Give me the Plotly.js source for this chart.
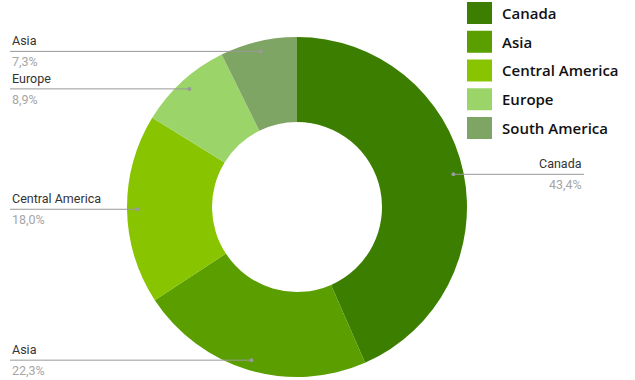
<!DOCTYPE html>
<html><head><meta charset="utf-8">
<script src="https://cdn.plot.ly/plotly-3.0.1.min.js"></script>
<style>html,body{margin:0;padding:0;background:#fff}#chart{width:635px;height:380px}</style>
</head><body><div id="chart"></div>
<script>
const categories = ['Canada', 'Asia', 'Central America', 'Europe', 'South America'];
const values = [43.4, 22.3, 18.0, 8.9, 7.3];
const calloutLabels = ['Canada', 'Asia', 'Central America', 'Europe', 'Asia'];
const colors = ['#3c7f00', '#5a9e00', '#88c400', '#9bd468', '#7fa565'];

const W = 635, H = 380;
const cx = 297, cy = 207, R = 170;
const domX = [(cx - R) / W, (cx + R) / W];
const domY = [(H - cy - R) / H, (H - cy + R) / H];

const total = values.reduce((a, b) => a + b, 0);
const shapes = [], annotations = [];
let cum = 0;
values.forEach((v, i) => {
  const mid = (cum + v / 2) / total * 2 * Math.PI;
  cum += v;
  const px = cx + Math.sin(mid) * R * 0.94;
  const py = cy - Math.cos(mid) * R * 0.94;
  const right = Math.sin(mid) > 0;
  const ex = right ? 584 : 10;
  const pct = v.toFixed(1).replace('.', ',') + '%';
  shapes.push({type: 'line', xref: 'paper', yref: 'paper',
    x0: px / W, y0: 1 - py / H, x1: ex / W, y1: 1 - py / H,
    line: {color: '#999', width: 1}});
  shapes.push({type: 'circle', xref: 'paper', yref: 'paper',
    x0: (px - 2) / W, x1: (px + 2) / W, y0: 1 - (py + 2) / H, y1: 1 - (py - 2) / H,
    fillcolor: '#999', line: {width: 0}});
  annotations.push({xref: 'paper', yref: 'paper', x: ex / W, y: 1 - (py - 1) / H,
    xanchor: right ? 'right' : 'left', yanchor: 'bottom', showarrow: false,
    text: calloutLabels[i], font: {family: 'Roboto', size: 12.5, color: '#333'}});
  annotations.push({xref: 'paper', yref: 'paper', x: ex / W, y: 1 - (py + 1) / H,
    xanchor: right ? 'right' : 'left', yanchor: 'top', showarrow: false,
    text: pct, font: {family: 'Roboto', size: 12.5, color: '#a6a6a6'}});
});

// legend
categories.forEach((c, i) => {
  const yc = 13 + i * 28.75;
  shapes.push({type: 'rect', xref: 'paper', yref: 'paper',
    x0: 467 / W, x1: 492 / W, y0: 1 - (yc + 11) / H, y1: 1 - (yc - 11) / H,
    fillcolor: colors[i], line: {width: 0}});
  annotations.push({xref: 'paper', yref: 'paper', x: 500 / W, y: 1 - yc / H,
    xanchor: 'left', yanchor: 'middle', showarrow: false, text: c,
    font: {family: 'Open Sans', size: 15, color: '#111', weight: 600}});
});

const data = [{
  type: 'pie', labels: categories, values: values, hole: 0.5,
  sort: false, direction: 'clockwise', rotation: 0,
  marker: {colors: colors, line: {width: 0}},
  textinfo: 'none', hoverinfo: 'label+percent',
  domain: {x: domX, y: domY}
}];
const layout = {
  width: W, height: H, margin: {l: 0, r: 0, t: 0, b: 0},
  showlegend: false, paper_bgcolor: '#fff',
  shapes: shapes, annotations: annotations
};
Plotly.newPlot('chart', data, layout, {displayModeBar: false, staticPlot: true});
</script></body></html>
